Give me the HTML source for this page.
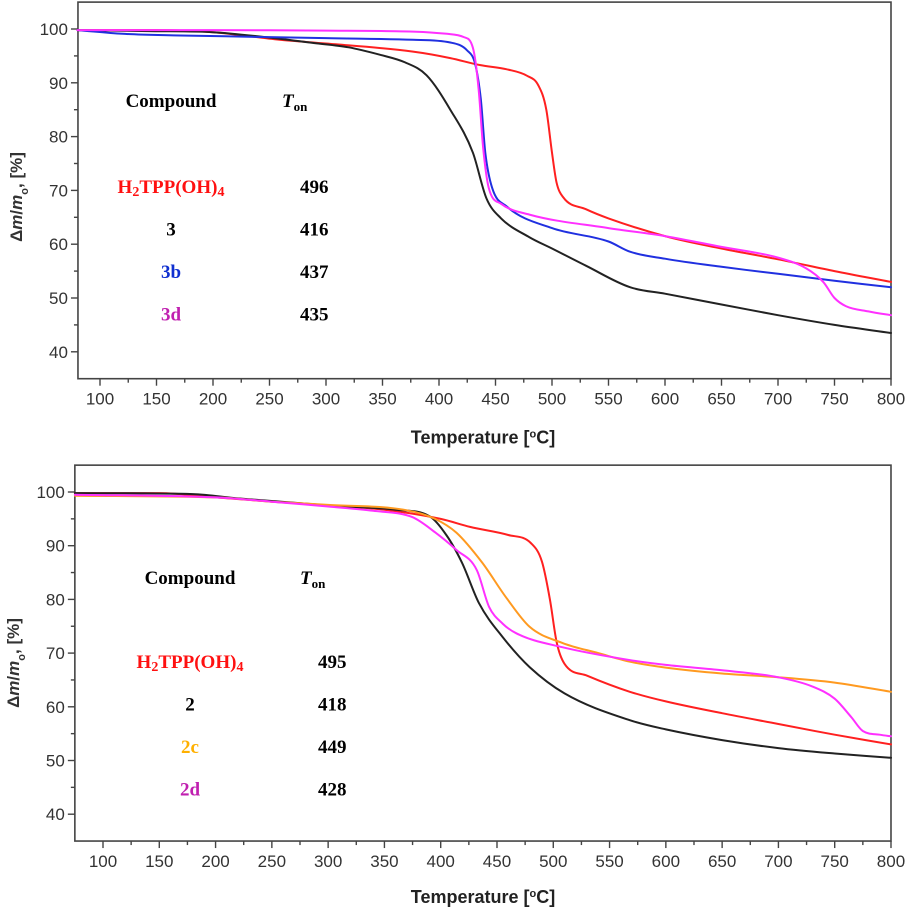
<!DOCTYPE html>
<html><head><meta charset="utf-8"><style>
html,body{margin:0;padding:0;background:#fff;}
svg{display:block;}
.tk{font-family:"Liberation Sans",sans-serif;font-size:17px;fill:#333;}
.ax{font-family:"Liberation Sans",sans-serif;font-size:18px;font-weight:bold;fill:#222;}
.ay{font-family:"Liberation Sans",sans-serif;font-size:17px;font-weight:bold;fill:#333;}
.lg{font-family:"Liberation Serif",serif;font-size:19px;font-weight:bold;}
</style></head><body>
<svg id="c" width="907" height="912" viewBox="0 0 907 912"></svg>
<script>
// ---- data ----
const xTicks=[100,150,200,250,300,350,400,450,500,550,600,650,700,750,800];
const yTicks=[40,50,60,70,80,90,100];
const topNames=["H2TPP(OH)4","3","3b","3d"];
const topColors=["#ff2020","#222222","#2030e0","#ff30ff"];
const topOnset=["496","416","437","435"];
const topRed=[[80,99.8],[150,99.8],[200,99.4],[259,98],[300,97.3],[377,95.8],[410,94.6],[436,93.3],[460,92.5],[478,91.3],[488,89.5],[495,85],[500,77],[504,71.5],[510,68.7],[530,66.5],[550,64.8],[600,61.5],[650,59.2],[700,57.2],[750,55],[800,53]];
const topBlack=[[80,99.8],[150,99.6],[200,99.4],[250,98.4],[289,97.4],[320,96.6],[348,95.2],[370,93.8],[389,91.4],[410,85],[430,77],[442,68.5],[455,64.8],[480,61.3],[500,59.2],[530,56],[569,52],[600,50.8],[650,48.8],[700,46.8],[750,45],[800,43.5]];
const topBlue=[[80,99.8],[120,99.1],[171,98.8],[250,98.5],[300,98.3],[377,98],[410,97.5],[425,96],[432,93.5],[437,87],[441,77],[447,70.5],[460,67],[500,63],[550,60.5],[569,58.6],[600,57.3],[650,55.8],[700,54.5],[750,53.2],[800,52]];
const topMag=[[80,99.8],[200,99.8],[300,99.7],[380,99.5],[407,99.1],[422,98.5],[430,96.5],[435,89],[439,78],[444,70.5],[455,67.5],[480,65.5],[550,63],[600,61.5],[650,59.5],[700,57.5],[725,55.5],[740,53],[750,50],[760,48.5],[780,47.5],[800,46.8]];
const botNames=["H2TPP(OH)4","2","2c","2d"];
const botColors=["#ff2020","#222222","#ff9a20","#ff30ff"];
const botOnset=["495","418","449","428"];
const botRed=[[75,99.8],[150,99.8],[200,99],[250,98.2],[300,97.5],[350,96.7],[400,95],[426,93.5],[460,92],[480,90.5],[490,87],[497,80],[503,72],[510,68],[530,65.8],[568,62.8],[600,61],[650,58.8],[700,56.8],[750,54.8],[800,53]];
const botBlack=[[75,99.8],[180,99.6],[220,98.8],[300,97.5],[360,96.7],[390,95.5],[405,92],[419,86.8],[434,79.3],[455,73],[479,67.4],[510,62.5],[568,57.5],[600,55.8],[650,53.8],[700,52.3],[750,51.3],[800,50.5]];
const botOrange=[[75,99.3],[200,99],[250,98.2],[300,97.6],[370,96.6],[395,95],[414,92.4],[437,86.8],[458,80.4],[479,74.9],[508,71.9],[540,70],[568,68.4],[600,67.3],[650,66.2],[700,65.5],[750,64.5],[800,62.8]];
const botMag=[[75,99.5],[200,99],[250,98.2],[300,97.3],[340,96.5],[375,95.3],[395,92.5],[414,89.2],[432,85.5],[443,78.6],[455,75.5],[467,73.7],[508,71.1],[568,68.7],[600,67.8],[650,66.8],[700,65.5],[730,63.8],[750,61.5],[765,58],[775,55.5],[790,54.8],[800,54.5]];

const NS="http://www.w3.org/2000/svg";
const svg=document.getElementById('c');
function mk(tag,attrs,parent){const e=document.createElementNS(NS,tag);for(const k in attrs)e.setAttribute(k,attrs[k]);(parent||svg).appendChild(e);return e;}
function smoothPath(pts){
  const n=pts.length;const dx=[],m=[],t=[];
  for(let i=0;i<n-1;i++){dx[i]=pts[i+1][0]-pts[i][0];m[i]=(pts[i+1][1]-pts[i][1])/dx[i];}
  t[0]=m[0];t[n-1]=m[n-2];
  for(let i=1;i<n-1;i++){t[i]=(m[i-1]*m[i]<=0)?0:(m[i-1]+m[i])/2;}
  for(let i=0;i<n-1;i++){if(m[i]===0){t[i]=0;t[i+1]=0;continue;}const a=t[i]/m[i],b=t[i+1]/m[i],s=a*a+b*b;if(s>9){const k=3/Math.sqrt(s);t[i]=k*a*m[i];t[i+1]=k*b*m[i];}}
  let d='M'+pts[0][0].toFixed(1)+','+pts[0][1].toFixed(1);
  for(let i=0;i<n-1;i++){const h=dx[i]/3;d+=' C'+(pts[i][0]+h).toFixed(1)+','+(pts[i][1]+t[i]*h).toFixed(1)+' '+(pts[i+1][0]-h).toFixed(1)+','+(pts[i+1][1]-t[i+1]*h).toFixed(1)+' '+pts[i+1][0].toFixed(1)+','+pts[i+1][1].toFixed(1);}
  return d;
}
function panel(P){
  const g=mk('g',{});
  
  
  const X=t=>P.x100+(t-100)*P.sx;
  const Y=v=>P.y100+(100-v)*P.sy;
  const L=X(P.tmin),R=X(800),T=Y(105),B=Y(35);
  const fr=mk('rect',{x:L,y:T,width:R-L,height:B-T,fill:'none',stroke:'#444','stroke-width':1.6},g);
  
  
  for(let t=100;t<=800;t+=25){const maj=t%50===0;mk('line',{x1:X(t),x2:X(t),y1:B,y2:B+(maj?7:4),stroke:'#444','stroke-width':1.4},g);}
  for(let v=40;v<=100;v+=5){const maj=v%10===0;mk('line',{x1:L,x2:L-(maj?7:4),y1:Y(v),y2:Y(v),stroke:'#444','stroke-width':1.4},g);}
  xTicks.forEach(t=>{const e=mk('text',{x:X(t),y:B+26,'text-anchor':'middle',class:'tk'},g);e.textContent=t;
    
    });
  yTicks.forEach(v=>{const e=mk('text',{x:L-10,y:Y(v)+6,'text-anchor':'end',class:'tk'},g);e.textContent=v;
    
    });
  const xt=mk('text',{x:483,y:B+P.titleOff,'text-anchor':'middle',class:'ax'},g);
  xt.innerHTML='Temperature [<tspan baseline-shift="super" font-size="11">o</tspan>C]';
  
  
  const yt=mk('text',{x:0,y:0,'text-anchor':'middle',class:'ay',transform:`translate(${P.ytx},${P.yty}) rotate(-90)`},g);
  yt.innerHTML='Δ<tspan font-style="italic">m</tspan>/<tspan font-style="italic">m</tspan><tspan baseline-shift="sub" font-size="11">o</tspan>, [%]';
  
  
  P.series.forEach((s,i)=>{
    const pts=s.map(p=>[X(p[0]),Y(p[1])]);
    const pa=mk('path',{d:smoothPath(pts),fill:'none',stroke:P.colors[i],'stroke-width':2,'stroke-linejoin':'round','stroke-linecap':'round'},g);
    
    
  });
  const ch=mk('text',{x:P.lx,y:P.ly,'text-anchor':'middle',class:'lg',fill:'#000'},g);ch.textContent='Compound';
  
  
  const th=mk('text',{x:P.vx-18,y:P.ly,class:'lg',fill:'#000'},g);
  th.innerHTML='<tspan font-style="italic">T</tspan><tspan font-size="13" dy="4">on</tspan>';
  
  
  const txtCol={"#222222":"#000","#ff30ff":"#c020b0","#2030e0":"#1030d0","#ff9a20":"#ffb000","#ff2020":"#ff1010"};
  P.names.forEach((n,i)=>{
    const y=P.ry+i*42.5;
    const e=mk('text',{x:P.lx,y:y,'text-anchor':'middle',class:'lg',fill:txtCol[P.colors[i]]},g);
    if(n==='H2TPP(OH)4')e.innerHTML='H<tspan font-size="14" dy="3">2</tspan><tspan dy="-3">TPP(OH)</tspan><tspan font-size="14" dy="3">4</tspan>';
    else e.textContent=n;
    
    
    const o=mk('text',{x:P.vx,y:y,class:'lg',fill:'#000'},g);o.textContent=P.onset[i];
    
    
  });
}
panel({name:'top-panel',x100:100,sx:1.13,y100:29,sy:5.38,tmin:80.5,
  series:[topRed,topBlack,topBlue,topMag],colors:topColors,names:topNames,onset:topOnset,
  lx:171,ly:107,vx:300,ry:193,titleOff:65,ytx:22,yty:197});
panel({name:'bottom-panel',x100:103,sx:1.1257,y100:492,sy:5.37,tmin:75,
  series:[botRed,botBlack,botOrange,botMag],colors:botColors,names:botNames,onset:botOnset,
  lx:190,ly:584,vx:318,ry:668,titleOff:62,ytx:19,yty:663});
</script>
</body></html>
